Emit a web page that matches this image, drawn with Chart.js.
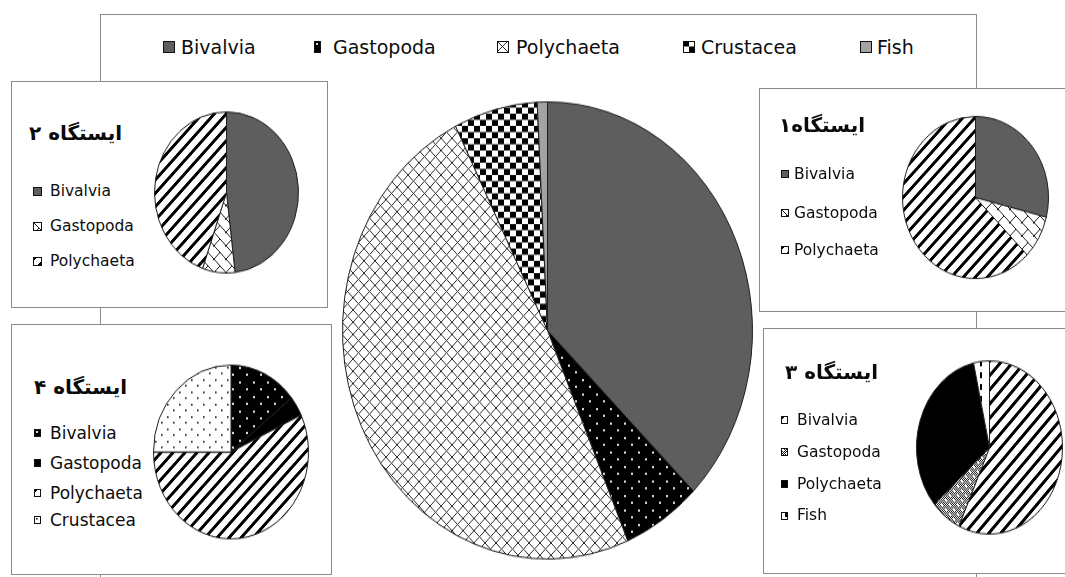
<!DOCTYPE html>
<html>
<head>
<meta charset="utf-8">
<script src="https://cdn.jsdelivr.net/npm/chart.js@4.4.1/dist/chart.umd.min.js"></script>
<style>
  html, body { margin: 0; padding: 0; background: #fff; }
  #root { position: relative; width: 1065px; height: 577px; overflow: hidden; background: #fff;
          font-family: "DejaVu Sans", sans-serif; color: #0d0d0d; }
  .frame { position: absolute; border: 1px solid #8a8a8a; background: #fff; box-sizing: border-box; }
  .lbl { position: absolute; white-space: nowrap; }
  .ttl { position: absolute; white-space: nowrap; font-weight: bold; direction: rtl; text-align: right; color: #0a0a0a; }
  canvas.sw { position: absolute; }
</style>
</head>
<body>
<div id="root"></div>
<script>
// ---- data ----
const categories = ['Bivalvia', 'Gastopoda', 'Polychaeta', 'Crustacea', 'Fish'];
const totalValues = [37.4, 6.2, 49.0, 6.6, 0.8];

const station1Labels = ['Bivalvia', 'Gastopoda', 'Polychaeta'];
const station1Values = [28.9, 8.6, 62.5];

const station2Labels = ['Bivalvia', 'Gastopoda', 'Polychaeta'];
const station2Values = [48.1, 7.3, 44.6];

const station3Labels = ['Bivalvia', 'Gastopoda', 'Polychaeta', 'Fish'];
const station3Values = [56.9, 6.7, 32.9, 3.5];

const station4Labels = ['Bivalvia', 'Gastopoda', 'Polychaeta', 'Crustacea'];
const station4Values = [14.3, 3.7, 57.0, 25.0];

const stationTitles = ['ایستگاه۱', 'ایستگاه ۲', 'ایستگاه ۳', 'ایستگاه ۴'];

// ---- fill patterns ----
function tile(w, h, draw) {
  const c = document.createElement('canvas');
  c.width = w; c.height = h;
  const g = c.getContext('2d');
  draw(g, w, h);
  return g.createPattern(c, 'repeat');
}
const fills = {
  gray: '#5e5e5e',
  lightGray: '#a3a3a3',
  black: '#000000',
  blackDots: tile(14, 13, (g, w, h) => {
    g.fillStyle = '#000'; g.fillRect(0, 0, w, h);
    g.fillStyle = '#d8d8d8'; g.fillRect(2, 2, 2, 2); g.fillRect(9, 8, 2, 2);
  }),
  whiteDots: tile(12, 11, (g, w, h) => {
    g.fillStyle = '#fff'; g.fillRect(0, 0, w, h);
    g.fillStyle = '#222'; g.fillRect(2, 2, 1.6, 1.6); g.fillRect(8, 7, 1.6, 1.6);
  }),
  diamond: tile(11, 11, (g, w, h) => {
    g.fillStyle = '#fff'; g.fillRect(0, 0, w, h);
    g.fillStyle = '#2f2f2f';
    for (let i = 0; i < w; i++) { g.fillRect(i, i, 1, 1); g.fillRect(w - 1 - i, i, 1, 1); }
  }),
  checker: tile(12, 11, (g, w, h) => {
    g.fillStyle = '#fff'; g.fillRect(0, 0, w, h);
    g.fillStyle = '#000'; g.fillRect(0, 0, 6, 5.5); g.fillRect(6, 5.5, 6, 5.5);
  }),
  stripes: tile(12, 12, (g, w, h) => {
    g.fillStyle = '#fff'; g.fillRect(0, 0, w, h);
    g.fillStyle = '#000';
    for (let y = 0; y < h; y++) for (let x = 0; x < w; x++) if (((x + y) % w) < 4) g.fillRect(x, y, 1, 1);
  }),
  brick: tile(12, 12, (g, w, h) => {
    g.fillStyle = '#fff'; g.fillRect(0, 0, w, h);
    g.strokeStyle = '#222'; g.lineWidth = 1;
    g.beginPath();
    g.moveTo(-1, -1); g.lineTo(13, 13);
    g.moveTo(6, 6); g.lineTo(0, 12);
    g.moveTo(12, 0); g.lineTo(11, 1);
    g.stroke();
  }),
  sparkle: tile(8, 8, (g, w, h) => {
    g.fillStyle = '#fff'; g.fillRect(0, 0, w, h);
    g.fillStyle = '#111';
    for (let y = 0; y < h; y++) for (let x = 0; x < w; x++) if ((x + y) % 2 === 0) g.fillRect(x, y, 1, 1);
    g.fillStyle = '#fff'; g.fillRect(1, 1, 2, 2); g.fillRect(5, 5, 2, 2);
  }),
  vDash: tile(10, 10, (g, w, h) => {
    g.fillStyle = '#fff'; g.fillRect(0, 0, w, h);
    g.fillStyle = '#000'; g.fillRect(4, 0, 2, 5);
  })
};

// ---- layout ----
const root = document.getElementById('root');
function box(l, t, w, h) {
  const d = document.createElement('div');
  d.className = 'frame';
  Object.assign(d.style, { left: l + 'px', top: t + 'px', width: w + 'px', height: h + 'px' });
  root.appendChild(d);
}
box(100, 14, 877, 620);          // outer chart frame
box(11, 81, 317, 227);           // station 2
box(759, 88, 320, 224);          // station 1
box(11, 324, 321, 251);          // station 4
box(763, 328, 320, 246);         // station 3

function pie(cx, cy, rx, ry, labels, values, colors) {
  const size = Math.round(2 * rx) + 2;
  const c = document.createElement('canvas');
  c.width = size; c.height = size;
  Object.assign(c.style, {
    position: 'absolute', left: (cx - size / 2) + 'px', top: (cy - size / 2) + 'px',
    width: size + 'px', height: size + 'px', transformOrigin: '50% 50%',
    transform: 'scaleY(' + (ry / rx) + ')'
  });
  root.appendChild(c);
  new Chart(c, {
    type: 'pie',
    data: { labels: labels, datasets: [{ data: values, backgroundColor: colors, borderColor: '#1e1e1e', borderWidth: 1 }] },
    options: {
      responsive: false, animation: false, events: [],
      layout: { padding: 0 },
      plugins: { legend: { display: false }, tooltip: { enabled: false } }
    }
  });
}

function swatch(x, y, w, h, fill) {
  const c = document.createElement('canvas');
  c.className = 'sw';
  c.width = w; c.height = h;
  c.style.left = x + 'px'; c.style.top = y + 'px';
  const g = c.getContext('2d');
  g.fillStyle = fill; g.fillRect(0, 0, w, h);
  g.strokeStyle = '#111'; g.lineWidth = 1; g.strokeRect(0.5, 0.5, w - 1, h - 1);
  root.appendChild(c);
}
function label(x, yc, text, size) {
  const d = document.createElement('div');
  d.className = 'lbl';
  d.textContent = text;
  Object.assign(d.style, { left: x + 'px', top: (yc - size * 0.6) + 'px', fontSize: size + 'px', lineHeight: (size * 1.2) + 'px' });
  root.appendChild(d);
}
function title(right, yc, text, size) {
  const d = document.createElement('div');
  d.className = 'ttl';
  d.textContent = text;
  Object.assign(d.style, { left: (right - 200) + 'px', width: '200px', top: (yc - size * 0.75) + 'px', fontSize: size + 'px', lineHeight: (size * 1.5) + 'px' });
  root.appendChild(d);
}

// overall composition
const totalColors = [fills.gray, fills.blackDots, fills.diamond, fills.checker, fills.lightGray];
pie(547.5, 330.5, 204.5, 228, categories, totalValues, totalColors);
const topLegend = [
  { sx: 163, sw: 12, tx: 181 }, { sx: 314, sw: 7, tx: 333 }, { sx: 497, sw: 12, tx: 516 },
  { sx: 683, sw: 12, tx: 701 }, { sx: 860, sw: 12, tx: 877 }
];
topLegend.forEach((p, i) => { swatch(p.sx, 41, p.sw, 12, totalColors[i]); label(p.tx, 47, categories[i], 19); });

// station 2
const st2Colors = [fills.gray, fills.brick, fills.stripes];
pie(226.5, 192.7, 71.5, 80, station2Labels, station2Values, st2Colors);
title(122, 133, stationTitles[1], 20);
[191.5, 226.5, 261].forEach((y, i) => { swatch(33, y - 4.5, 9, 9, st2Colors[i]); label(50, y, station2Labels[i], 15.5); });

// station 1
const st1Colors = [fills.gray, fills.brick, fills.stripes];
pie(975.8, 197.8, 72.5, 80.5, station1Labels, station1Values, st1Colors);
title(865, 125, stationTitles[0], 20);
[174.3, 213.3, 250].forEach((y, i) => { swatch(781, y - 4, 8, 8, st1Colors[i]); label(794, y, station1Labels[i], 15.5); });

// station 4
const st4Colors = [fills.blackDots, fills.black, fills.stripes, fills.whiteDots];
pie(231, 452, 77, 86.3, station4Labels, station4Values, st4Colors);
title(127, 387, stationTitles[3], 20);
[433.3, 462.7, 492.7, 520].forEach((y, i) => { swatch(34, y - 4, 7, 8, st4Colors[i]); label(50, y, station4Labels[i], 17); });

// station 3
const st3Colors = [fills.stripes, fills.sparkle, fills.black, fills.vDash];
pie(989, 447, 72.5, 86, station3Labels, station3Values, st3Colors);
title(878, 372, stationTitles[2], 20);
[420, 452.3, 484.3, 515.7].forEach((y, i) => { swatch(781, y - 4, 7, 8, st3Colors[i]); label(797, y, station3Labels[i], 15.5); });
</script>
</body>
</html>
